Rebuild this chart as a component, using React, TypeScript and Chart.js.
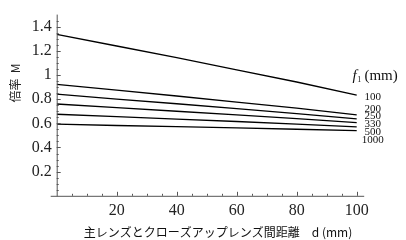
import React, { useEffect, useRef } from "react";
import { Chart, registerables } from "chart.js";

Chart.register(...registerables);

const distances = [0, 20, 40, 60, 80, 100];
const focalLengths = ["100", "200", "250", "330", "500", "1000"];
const m100 = [1.337, 1.24, 1.143, 1.043, 0.942, 0.833];
const m200 = [0.923, 0.874, 0.826, 0.776, 0.725, 0.67];
const m250 = [0.841, 0.801, 0.762, 0.722, 0.681, 0.637];
const m330 = [0.76, 0.73, 0.7, 0.67, 0.639, 0.605];
const m500 = [0.675, 0.655, 0.635, 0.615, 0.594, 0.571];
const m1000 = [0.593, 0.582, 0.572, 0.562, 0.551, 0.539];
const seriesValues = [m100, m200, m250, m330, m500, m1000];
const xTicks = [20, 40, 60, 80, 100];
const yTicks = [0.2, 0.4, 0.6, 0.8, 1, 1.2, 1.4];
// label anchors (in data units of the y axis) for the series names at the right
const labelAnchorY = [0.82, 0.717, 0.66, 0.593, 0.531, 0.458];

const SERIF = "'Liberation Serif', 'DejaVu Serif', serif";
const CJK = "'Noto Sans CJK JP', 'Noto Sans', sans-serif";

const overlayPlugin = {
  id: "overlay",
  afterDraw(chart: any) {
    const ctx = chart.ctx as CanvasRenderingContext2D;
    const xs = chart.scales.x;
    const ys = chart.scales.y;
    const x0 = xs.getPixelForValue(0);
    const y0 = ys.getPixelForValue(0);
    ctx.save();
    ctx.strokeStyle = "#555";
    ctx.lineWidth = 1;
    // axes
    ctx.beginPath();
    ctx.moveTo(x0 - 6, y0 + 0.5);
    ctx.lineTo(xs.getPixelForValue(102.5), y0 + 0.5);
    ctx.moveTo(x0 + 0.5, ys.getPixelForValue(1.5));
    ctx.lineTo(x0 + 0.5, y0 + 0.5);
    ctx.stroke();
    // x ticks
    ctx.beginPath();
    for (let v = 5; v <= 100; v += 5) {
      const p = Math.round(xs.getPixelForValue(v)) + 0.5;
      const len = v % 20 === 0 ? 4 : 2;
      ctx.moveTo(p, y0);
      ctx.lineTo(p, y0 - len);
    }
    // y ticks
    for (let i = 1; i <= 29; i++) {
      const v = i * 0.05;
      const p = Math.round(ys.getPixelForValue(v)) + 0.5;
      const len = i % 4 === 0 ? 4 : 2;
      ctx.moveTo(x0, p);
      ctx.lineTo(x0 + len, p);
    }
    ctx.stroke();

    // series labels
    ctx.fillStyle = "#111";
    ctx.font = `11px ${SERIF}`;
    ctx.textBaseline = "middle";
    ctx.textAlign = "center";
    const lx = xs.getPixelForValue(100) + 16;
    focalLengths.forEach((f, i) => {
      ctx.fillText(f, lx, ys.getPixelForValue(labelAnchorY[i]));
    });

    // f1 (mm) header
    const hx = xs.getPixelForValue(98.6);
    const hy = ys.getPixelForValue(0.995);
    ctx.textAlign = "left";
    ctx.font = `italic 15px ${SERIF}`;
    ctx.fillText("f", hx, hy);
    const fw = ctx.measureText("f").width;
    ctx.font = `8px ${SERIF}`;
    ctx.fillText("1", hx + fw + 0.5, hy + 4);
    ctx.font = `15px ${SERIF}`;
    ctx.fillText(" (mm)", hx + fw + 4, hy);

    // y axis title
    ctx.save();
    ctx.translate(15, 83);
    ctx.rotate(-Math.PI / 2);
    ctx.textAlign = "center";
    ctx.font = `12px ${CJK}`;
    ctx.fillStyle = "#222";
    ctx.fillText("倍率  M", 0, 0);
    ctx.restore();

    // x axis title
    ctx.textAlign = "center";
    ctx.font = `12px ${CJK}`;
    ctx.fillStyle = "#111";
    ctx.fillText("主レンズとクローズアップレンズ間距離　d (mm)", 218, 232);
    ctx.restore();
  },
};

export default function App() {
  const ref = useRef<HTMLCanvasElement>(null);
  useEffect(() => {
    if (!ref.current) return;
    const chart = new Chart(ref.current, {
      type: "line",
      data: {
        datasets: seriesValues.map((vals, i) => ({
          label: focalLengths[i],
          data: distances.map((d, j) => ({ x: d, y: vals[j] })),
          borderColor: "#000",
          borderWidth: 1.3,
          pointRadius: 0,
          fill: false,
          tension: 0,
        })),
      },
      options: {
        animation: false,
        responsive: false,
        events: [],
        layout: { padding: { top: 2.3, right: 41.8, left: 0, bottom: 0 } },
        plugins: { legend: { display: false }, tooltip: { enabled: false } },
        scales: {
          x: {
            type: "linear",
            min: 0,
            max: 102.5,
            grid: { display: false, drawTicks: false },
            border: { display: false },
            afterFit: (s: any) => {
              s.height = 44.2;
            },
            afterBuildTicks: (s: any) => {
              s.ticks = xTicks.map((v) => ({ value: v }));
            },
            ticks: {
              color: "#222",
              font: { family: SERIF, size: 16 },
              padding: 5,
              maxRotation: 0,
              autoSkip: false,
              callback: (v: any) => String(v),
            },
          },
          y: {
            type: "linear",
            min: 0,
            max: 1.5,
            grid: { display: false, drawTicks: false },
            border: { display: false },
            afterFit: (s: any) => {
              s.width = 56.7;
            },
            afterBuildTicks: (s: any) => {
              s.ticks = yTicks.map((v) => ({ value: v }));
            },
            ticks: {
              color: "#222",
              font: { family: SERIF, size: 16 },
              padding: 5,
              autoSkip: false,
              callback: (v: any) => String(Number(Number(v).toFixed(1))),
            },
          },
        },
      },
      plugins: [overlayPlugin],
    });
    return () => chart.destroy();
  }, []);
  return (
    <div style={{ position: "absolute", left: 0, top: 0, width: 406, height: 240, background: "#fff" }}>
      <canvas ref={ref} width={406} height={240} />
    </div>
  );
}
